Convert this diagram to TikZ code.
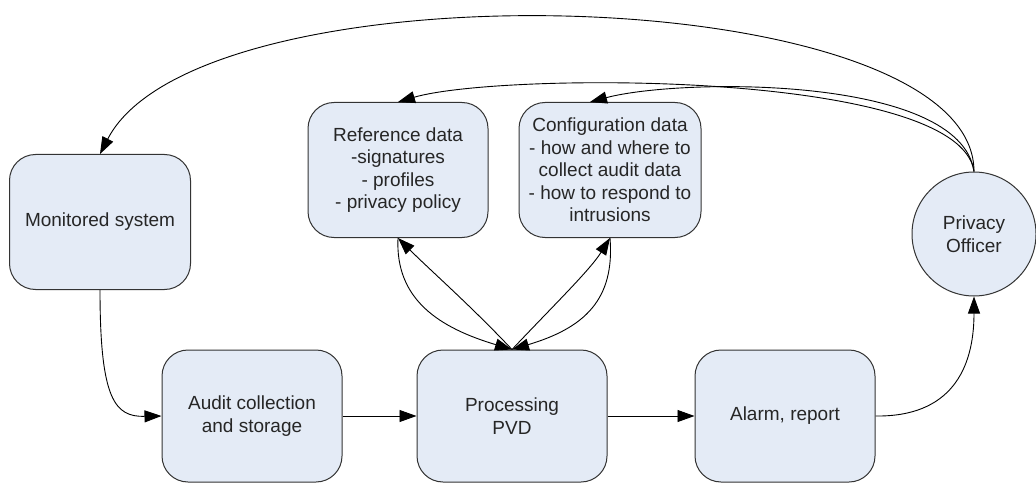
\documentclass[tikz,border=0pt]{standalone}
\usepackage{fontspec}
\setmainfont{Liberation Sans}
\usetikzlibrary{arrows.meta}

\definecolor{boxfill}{RGB}{228,235,246}

\tikzset{
  box/.style={draw=black!80, fill=boxfill, rounded corners=26pt, line width=1pt,
    minimum width=180pt, minimum height=134pt, align=center, text=black!85},
  officer/.style={draw=black!80, fill=boxfill, circle, line width=1pt,
    minimum size=124pt, inner sep=0pt, align=center, text=black!85}
}

\begin{document}
\begin{tikzpicture}[x=1pt,y=-1pt,line width=0.9pt,
  >={Triangle[length=17pt,width=12pt]},
  font=\fontsize{19}{22.5}\selectfont]

\useasboundingbox (0,0) rectangle (1036,484);

\node[box,minimum width=181pt,minimum height=135pt] (1) at (100,222) {Monitored system};
\node[box,minimum height=132pt] (2) at (252,416) {Audit collection\\and storage};
\node[box,minimum width=190pt,minimum height=132pt] (3) at (512,416) {Processing\\PVD};
\node[box,minimum height=132pt] (4) at (785,416) {Alarm, report};
\node[officer] (5) at (974,234) {Privacy\\Officer};
\node[box,minimum height=135pt] (6) at (398,170) {Reference data\\-signatures\\- profiles\\- privacy policy};
\node[box,minimum width=182pt,minimum height=135pt] (7) at (610,170) {Configuration data\\- how and where to\\collect audit data\\- how to respond to\\intrusions};

% main flow
\draw[->] (1.south) .. controls (100,400) and (115,417) .. (2.west);
\path[->]
(2) edge (3)
(3) edge (4);
\draw[->] (4.east) .. controls (950,417) and (974,370) .. (5.south);

% feedback from the officer
\draw[->] (5.north) .. controls (974,-20) and (200,-40) .. (1.north);
\draw[->] (5.north) .. controls (960,70) and (500,72) .. (6.north);
\draw[->] (5.north) .. controls (960,75) and (680,78) .. ([xshift=-20pt]7.north);

% processing <-> data
\draw[->] (3.north) .. controls (470,305) and (430,270) .. (6.south);
\draw[->] (6.south) .. controls (395,300) and (440,328) .. (3.north);
\draw[->] (3.north) .. controls (554,305) and (590,270) .. (7.south);
\draw[->] (7.south) .. controls (615,300) and (584,328) .. (3.north);

\end{tikzpicture}
\end{document}
